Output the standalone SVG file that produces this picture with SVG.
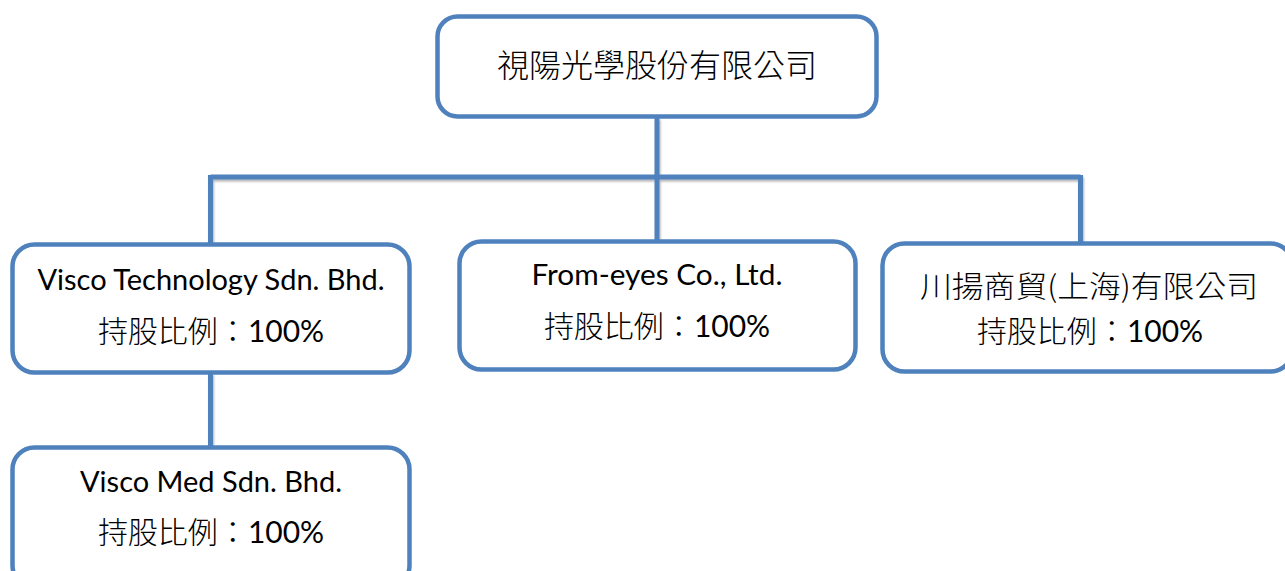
<svg xmlns="http://www.w3.org/2000/svg" width="1285" height="571" viewBox="0 0 1285 571">
<defs>
<style>
.box{fill:#ffffff;stroke:#4f81bd;stroke-width:4.5}
.conn{fill:none;stroke:#4f81bd;stroke-width:5}
.t{font-family:"Lato","Noto Sans CJK TC",sans-serif;fill:#000000;text-anchor:middle}
.lat{font-size:28px}
.cjk{font-size:30px}
.c{font-family:"Noto Sans CJK TC",sans-serif;font-weight:300}
.n{font-family:"Lato","Noto Sans CJK TC",sans-serif;font-weight:400}
</style>
<filter id="sh" x="-5%" y="-20%" width="110%" height="140%">
<feDropShadow dx="1" dy="2" stdDeviation="1.2" flood-color="#000" flood-opacity="0.3"/>
</filter>
</defs>
<rect width="1285" height="571" fill="#ffffff"/>
<g id="connectors" filter="url(#sh)">
<path class="conn" d="M657 118 V177"/>
<path class="conn" d="M210.5 177 H1080.5"/>
<path class="conn" d="M210.5 175 V243"/>
<path class="conn" d="M657 175 V240"/>
<path class="conn" d="M1080.5 175 V242"/>
<path class="conn" d="M210.5 373 V447"/>
</g>
<g id="node-parent">
<rect class="box" x="437.5" y="16.5" width="439" height="100" rx="20"/>
<text class="t c" x="657" y="77" style="font-size:32px">視陽光學股份有限公司</text>
</g>
<g id="node-visco-tech">
<rect class="box" x="12.5" y="244.5" width="397" height="128" rx="22"/>
<text class="t lat" x="211" y="290" textLength="347" lengthAdjust="spacingAndGlyphs">Visco Technology Sdn. Bhd.</text>
<text class="t cjk" x="211" y="342"><tspan class="c">持股比例：</tspan><tspan class="n">100%</tspan></text>
</g>
<g id="node-from-eyes">
<rect class="box" x="459.5" y="241.5" width="396" height="128" rx="22"/>
<text class="t lat" x="657" y="285" textLength="251" lengthAdjust="spacingAndGlyphs">From-eyes Co., Ltd.</text>
<text class="t cjk" x="657" y="337"><tspan class="c">持股比例：</tspan><tspan class="n">100%</tspan></text>
</g>
<g id="node-chuanyang">
<rect class="box" x="882.5" y="243.5" width="410" height="128" rx="22"/>
<text class="t cjk c" x="1089" y="297" textLength="338" lengthAdjust="spacingAndGlyphs">川揚商貿(上海)有限公司</text>
<text class="t cjk" x="1090" y="342"><tspan class="c">持股比例：</tspan><tspan class="n">100%</tspan></text>
</g>
<g id="node-visco-med">
<rect class="box" x="12.5" y="447.5" width="397" height="140" rx="22"/>
<text class="t lat" x="211" y="492" textLength="262" lengthAdjust="spacingAndGlyphs">Visco Med Sdn. Bhd.</text>
<text class="t cjk" x="211" y="543"><tspan class="c">持股比例：</tspan><tspan class="n">100%</tspan></text>
</g>
</svg>
